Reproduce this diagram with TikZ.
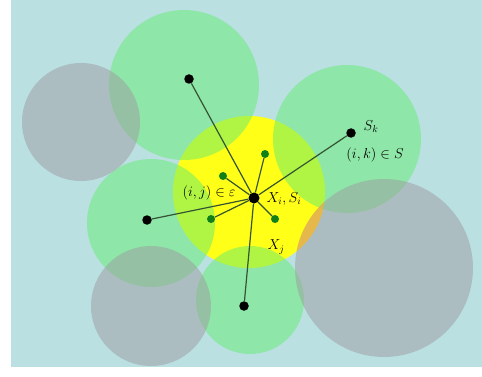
\documentclass[tikz,border=0pt]{standalone}
\usepackage{amsmath}
\usepackage{amssymb}

\definecolor{bgblue}{RGB}{186,224,226}
\definecolor{zonegreen}{RGB}{100,236,112}
\definecolor{zonegray}{RGB}{158,156,160}
\definecolor{zoneyellow}{RGB}{255,255,24}
\definecolor{tintorange}{RGB}{255,165,60}
\definecolor{dotgreen}{RGB}{16,128,24}
\definecolor{linkgreen}{RGB}{52,84,52}

\begin{document}
\begin{tikzpicture}[x=1pt,y=-1pt,
  zone/.style={fill=zonegreen,fill opacity=0.5},
  grayzone/.style={fill=zonegray,fill opacity=0.5},
  dot/.style={circle,fill=black,inner sep=0pt,minimum size=9.5pt},
  gdot/.style={circle,fill=dotgreen,inner sep=0pt,minimum size=8pt},
  link/.style={draw=linkgreen,line width=1.2pt},
  lbl/.style={inner sep=0pt,font=\Large}]
\useasboundingbox (0,0) rectangle (482,377);
\fill[white] (0,0) rectangle (482,377);
\fill[bgblue] (11,0) rectangle (482,367);

% the zones
\fill[zoneyellow] (249,192) circle[radius=76];
\fill[zone] (184,85) circle[radius=75];
\fill[zone] (347,139) circle[radius=74];
\fill[zone] (151,223) circle[radius=64];
\fill[zone] (250,300) circle[radius=54];
\fill[grayzone] (81,122) circle[radius=59];
\fill[grayzone] (151,306) circle[radius=60];
\fill[grayzone] (384,268) circle[radius=89];
\begin{scope}
\clip (249,192) circle[radius=76];
\fill[tintorange,fill opacity=0.5] (384,268) circle[radius=89];
\end{scope}

% sensors
\node[dot,minimum size=11pt] (ctr) at (254,198) {};
\node[dot] (top) at (189,79) {};
\node[dot] (rgt) at (351,133) {};
\node[dot] (lft) at (147,220) {};
\node[dot] (bot) at (244,306) {};
\node[gdot] (g1) at (223,176) {};
\node[gdot] (g2) at (265,154) {};
\node[gdot] (g3) at (211,219) {};
\node[gdot] (g4) at (275,219) {};

\draw[link] (ctr) -- (top);
\draw[link] (ctr) -- (rgt);
\draw[link] (ctr) -- (lft);
\draw[link] (ctr) -- (bot);
\draw[link] (ctr) -- (g1);
\draw[link] (ctr) -- (g2);
\draw[link] (ctr) -- (g3);
\draw[link] (ctr) -- (g4);

% labels
\node[lbl] (sklbl) at (371,127) {$S_k$};
\node[lbl] (iklbl) at (375,155) {$(i,k)\in S$};
\node[lbl] (ctrlbl) at (284,199) {$X_i,S_i$};
\node[lbl] (ijlbl) at (209,193) {$(i,j)\in\varepsilon$};
\node[lbl] (xjlbl) at (276,247) {$X_j$};
\end{tikzpicture}
\end{document}
